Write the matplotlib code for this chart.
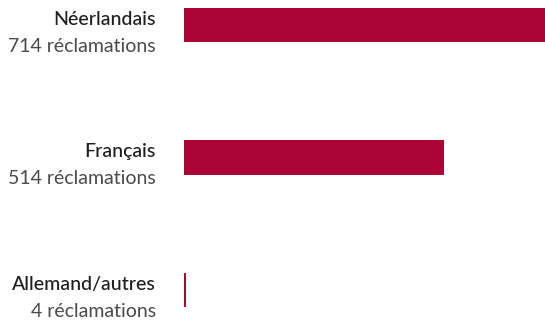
import matplotlib.pyplot as plt
from matplotlib.transforms import blended_transform_factory

languages = ["Néerlandais", "Français", "Allemand/autres"]
claims = [714, 514, 4]
count_labels = ["714 réclamations", "514 réclamations", "4 réclamations"]

bar_color = "#AA0534"
px = 72 / 100  # points per pixel at dpi 100

fig = plt.figure(figsize=(5.45, 3.22), dpi=100)
ax = fig.add_axes([184 / 545, 0, 1 - 184 / 545, 1])

pos = list(range(len(languages)))
ax.barh(pos, claims, height=0.257, color=bar_color, align="center")
ax.set_xlim(0, max(claims))
ax.set_ylim(2 + 32 / 132.5, -25 / 132.5)
ax.axis("off")

trans = blended_transform_factory(ax.transAxes, ax.transData)
for y, name, label in zip(pos, languages, count_labels):
    ax.annotate(name, xy=(0, y), xycoords=trans,
                xytext=(-28 * px, 0 * px), textcoords="offset points",
                ha="right", va="baseline", fontsize=14, family="Lato",
                fontweight="medium", color="#1e1e1e")
    ax.annotate(label, xy=(0, y), xycoords=trans,
                xytext=(-28 * px, -27 * px), textcoords="offset points",
                ha="right", va="baseline", fontsize=14, family="Lato",
                fontweight="normal", color="#4a4a4a")

fig.savefig("out.png", dpi=100)
